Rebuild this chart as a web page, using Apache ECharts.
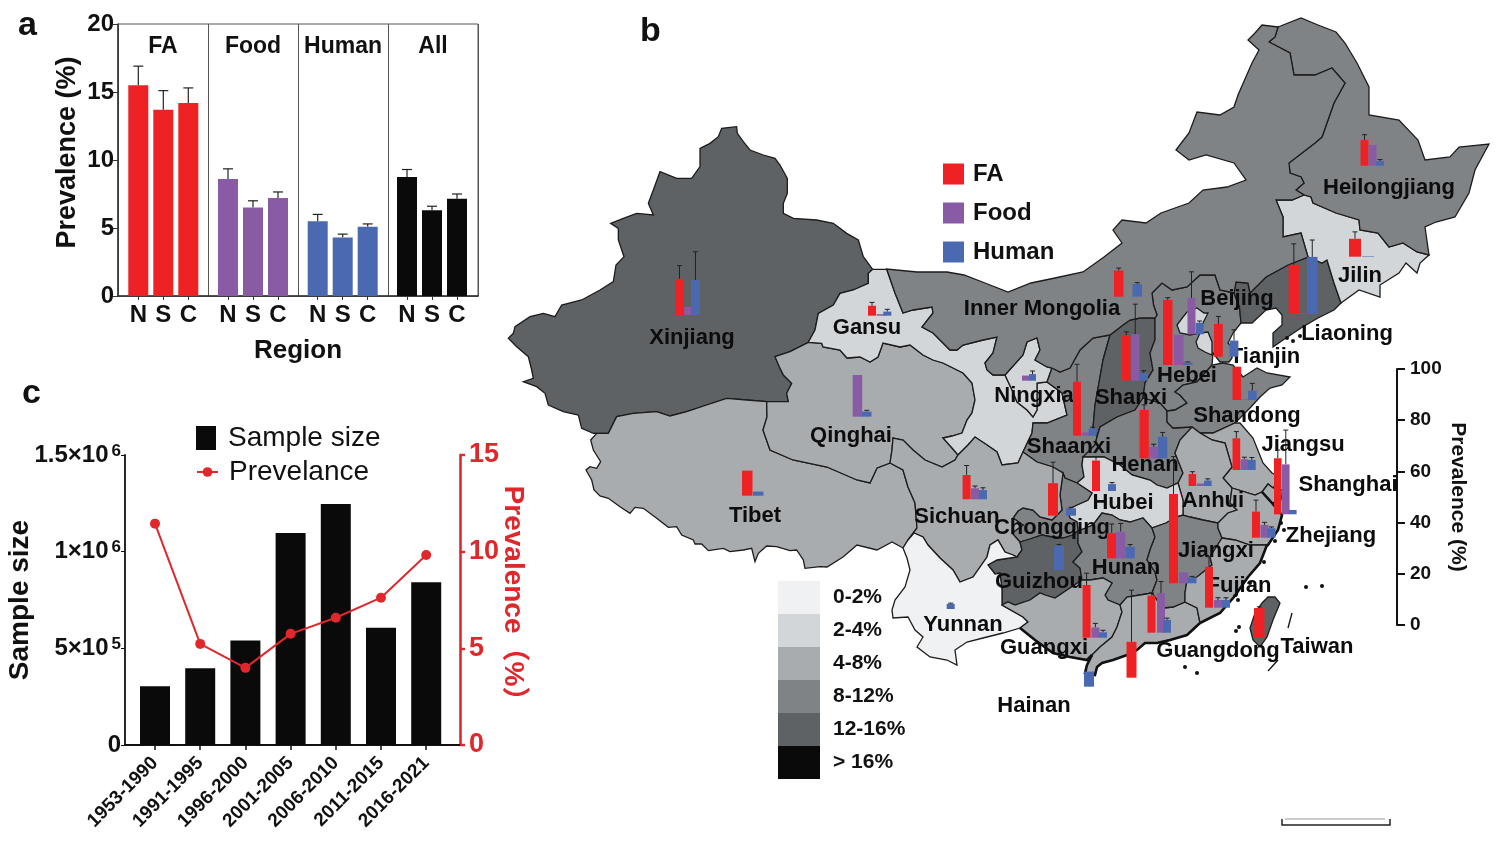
<!DOCTYPE html>
<html><head><meta charset="utf-8">
<style>html,body{margin:0;padding:0;background:#fff}#c{width:1503px;height:850px}</style>
<script src="https://cdn.jsdelivr.net/npm/echarts@6/dist/echarts.min.js"></script>
</head><body><div id="c"></div>
<script>
// ---------- panel a data ----------
const groupNames = ['FA','Food','Human','All'];
const regionCats = ['N','S','C'];
const faRegion = [15.5,13.7,14.2];       const faRegionErr = [1.4,1.4,1.1];
const foodRegion = [8.6,6.5,7.2];        const foodRegionErr = [0.75,0.5,0.45];
const humanRegion = [5.5,4.3,5.1];       const humanRegionErr = [0.5,0.25,0.2];
const allRegion = [8.75,6.3,7.15];       const allRegionErr = [0.55,0.3,0.35];
// ---------- panel c data ----------
const periods = ['1953-1990','1991-1995','1996-2000','2001-2005','2006-2010','2011-2015','2016-2021'];
const sampleSize = [304000,397000,541000,1097000,1246000,607000,842000];
const prevalenceByPeriod = [11.45,5.23,3.99,5.75,6.58,7.62,9.83];
const sampleTickLabels = {0:'0',500000:'5×10{s|5}',1000000:'1×10{s|6}',1500000:'1.5×10{s|6}'};
// ---------- panel b data ----------
const provinces = ['Xinjiang','Tibet','Qinghai','Gansu','Inner Mongolia','Heilongjiang','Jilin','Liaoning','Beijing','Tianjin','Hebei','Shanxi','Shandong','Ningxia','Shaanxi','Henan','Jiangsu','Shanghai','Anhui','Hubei','Sichuan','Chongqing','Guizhou','Hunan','Jiangxi','Zhejiang','Fujian','Guangxi','Yunnan','Guangdong','Hainan','Taiwan'];
const overall  = [14,6,6,3,10,10,3,13,3,3,10,13,10,3,10,10,6,6,6,3,6,10,13,10,10,6,6,6,1,6,6,13];
const faVals   = [14.1,9.8,0,3.9,10.2,10,7,19.2,0,12.8,25.4,17.8,13,0,21.1,18.9,12.4,21.9,4.7,11.9,9.5,12.7,0,9.8,34.9,10.2,16,20.6,0,14.5,14,11.7];
const foodVals = [3.2,0,16.3,0.6,0,8.1,0,0.2,14.2,0,11.7,18.2,0.3,2,1.3,4.5,4.2,19.5,1,0,4.3,0,0,10.4,4.3,5,3,4,0,15.4,0,0];
const humanVals= [13.7,1.6,2,1.6,5,1.8,0.2,22.3,4.5,6.3,0.9,3,3.6,2.6,2.9,8.4,3.9,1.7,2.1,2.7,3.6,2.9,9.5,4.5,2.3,3.7,3,2.1,2,5,5.9,0];
const faErr    = [5.2,0,0,1.3,1,2.1,2.7,8.2,0,2.9,0.9,1.3,0,0,6.8,2,2.6,3.2,0.9,1.6,3.7,8.2,0,3.6,14.6,4.5,3.9,4.6,0,1,20.2,0.5];
const foodErr  = [0,0,0,0,0,0,0,0,10.2,0,0,11.7,0,0,0,1,0.8,13.4,0,0,0.9,0,0,3.2,0,1,0.9,1.6,0,4.6,0,0];
const humanErr = [11,0,0.5,0.9,0.5,0.6,0,6.6,0.7,4.2,0.3,0.9,2.9,1.2,0.4,1.7,1,0,0.7,0.6,0.9,0.4,0.5,0.9,0.4,0.5,0.9,0.8,0.3,0.7,0,0];
const bandPieces = [
 {min:0,max:2,label:'0-2%',color:'#eff1f2'},{min:2,max:4,label:'2-4%',color:'#d3d6d9'},
 {min:4,max:8,label:'4-8%',color:'#a9acaf'},{min:8,max:12,label:'8-12%',color:'#808386'},
 {min:12,max:16,label:'12-16%',color:'#5f6264'},{min:16,label:'> 16%',color:'#0a0a0a'}];
const scaleTicks = [0,20,40,60,80,100];

// ---------- layout only: where each province's bars and name sit, in picture pixels ----------
const barPlace = {Xinjiang:[675,684.3,691,315,9],Tibet:[742,0,753,495.7,10.5],Qinghai:[0,852.7,862,416.7,9.5],Gansu:[868,876.7,883.3,315.7,8],'Inner Mongolia':[1114,0,1132.5,296.7,9.5],Heilongjiang:[1360.5,1368.6,1376,165.7,8],Jilin:[1349,0,1362,256.7,12],Liaoning:[1288.6,1299,1307,314,10.5],Beijing:[0,1187.5,1195.6,334.3,8],Tianjin:[1214,0,1229.6,356.7,8.8],Hebei:[1163,1174,1183,365,9.5],Shanxi:[1122,1131,1139.5,380.7,8.5],Shandong:[1232.5,1241,1248,400,8.7],Ningxia:[0,1022,1029,380.7,7],Shaanxi:[1073,1081.6,1088.6,435.7,8],Henan:[1139.5,1149,1158,458.3,9.3],Jiangsu:[1232.5,1240.5,1248,470,7.7],Shanghai:[1274,1282,1289,514.3,7.6],Anhui:[1188.6,1196.7,1204,486,7.6],Hubei:[1092,0,1108,491,8],Sichuan:[962.6,971,979,499.3,8],Chongqing:[1048,0,1066,515.7,10],Guizhou:[0,0,1054,570,10],Hunan:[1107,1116,1125.4,558.3,9.4],Jiangxi:[1169,1179,1187.5,583.3,9],Zhejiang:[1252,1260.5,1267.5,537.7,8],Fujian:[1205,1214,1222,607.7,8],Guangxi:[1082.6,1091.4,1099,637.7,8],Yunnan:[0,0,946.7,609,8],Guangdong:[1147.5,1157,1163,632.7,8],Hainan:[1126.5,0,1084,677.7,10],Taiwan:[1254,0,0,638,10.5]};
const humanBaseOverride = {Hainan:686.7};
const namePlace = {Xinjiang:[692,338],Tibet:[755,516],Qinghai:[851,436],Gansu:[867,328],'Inner Mongolia':[1042,309],Heilongjiang:[1389,188],Jilin:[1360,276],Liaoning:[1347,334],Beijing:[1237,299],Tianjin:[1265,357],Hebei:[1187,376],Shanxi:[1131,398],Shandong:[1247,416],Ningxia:[1034,396],Shaanxi:[1069,447],Henan:[1145,465],Jiangsu:[1303,445],Shanghai:[1348,485],Anhui:[1213,501],Hubei:[1123,503],Sichuan:[957,517],Chongqing:[1052,528],Guizhou:[1039,582],Hunan:[1126,568],Jiangxi:[1216,551],Zhejiang:[1331,536],Fujian:[1239,586],Guangxi:[1044,648],Yunnan:[963,625],Guangdong:[1218,651],Hainan:[1034,706],Taiwan:[1317,647]};
const islandPlace = [[1185,667],[1197,673],[1306,587],[1322,586],[1239,627],[1236,631],[1287,338],[1293,341],[1300,336],[1281,523],[1284,530],[1275,541],[1264,562],[1250,583],[1238,600]];
const dashPlace = [[[1292,613],[1288,628]],[[1268,671],[1278,660]]];

// ---------- province outlines, traced as shared borders in picture pixels ----------
const zoomed=(ox,oy,a)=>a.map((v,i)=>i%2?oy+v/3:ox+v/3);
const z3=a=>zoomed(500,100,a), z10=a=>zoomed(580,420,a);
const arcs={
xjOut:z3([1118,508,1090,470,1075,420,1040,400,1000,370,950,360,880,355,850,340,850,310,862,280,862,235,840,195,825,175,790,165,750,150,730,125,712,100,710,80,665,85,655,110,630,130,600,145,600,200,575,235,530,235,480,215,460,270,445,310,460,345,410,340,370,355,332,370,355,385,355,420,372,470,348,495,340,545,300,570,245,600,185,615,165,650,130,640,90,650,45,680,40,700,25,715,50,740,85,770,95,810,100,835,70,845,110,860,135,880,145,915,190,935,235,945,245,985,280,1000]),
xjTb:z3([280,1000,325,1000,350,950,400,940,470,935,510,948,560,935,620,915,680,895,740,900,800,905]),
xjQh:z3([800,905,865,905,860,880,875,850,850,825,838,800,825,770,870,755,925,727]),
xjGs:z3([925,727,945,690,955,640,1000,615,1020,580,1060,570,1105,550,1105,520,1118,508]),
gsTop:z3([1118,508,1160,508]),
gsQh:[808.3,342.3,821.7,343.3,823,347,840,350,847,358,860,357,870,362,878,357,883,343,900,347,910,345,923,355,933,360,943,363,963,373,972,383,975,400,972,413,967,420,962,433,952,436,943,438,952,448,958,455],
qhSc:[958,455,955,460,942,467,925,460,913,450,903,440,893,438,892,450,890,463],
qhTb:[890,463,877,468,870,483,857,480,827,467,793,460,770,450,763,430,767,417,766.7,401.7],
scTb:[890,463,903,470,908,487,915,503,917,528,908,540],
tbOut:z10([50,40,32,60,40,90,62,125,50,145,30,140,18,150,35,180,42,210,60,228,85,235,120,260,150,280,165,262,190,265,230,295,265,322,290,320,305,345,340,360,345,372,365,372,385,392,430,385,450,395,490,390,515,385,525,425,535,400,560,378,590,380,630,392,650,390,670,420,675,445,720,440]).concat([827,567,843,557,857,545,877,550,892,542,903,548,908,540]),
gsIm:[886.7,269,895,293,903,313,913,310,932,307,933,313,922,327,933,333,950,350,957,350,963,345,983,340,997,337,993,353,985,363,987,370,993,375,1005,375],
gsNx:[1005,375,1013,392,1017,402,1027,410,1033,417,1037,410,1037,383,1047,382],
gsSx:[1047,382,1062,393,1067,415,1047,423,1033,423,1032,433,1023,452],
scGs:[958,455,968,445,975,437,987,445,997,452,1002,465,1018,463,1023,452],
nxIm:[1005,375,1023,355,1027,342,1037,338,1040,350,1035,360,1047,367,1052,368],
nxSx:[1052,368,1047,382],
sxIm:[1052,368,1060,372,1070,368,1080,350,1093,338,1110,335],
ssShanxi:[1110,335,1103,360,1100,377,1095,405,1093,428,1097,437],
sxHn:[1097,437,1095,445,1083,457],
sxHb:[1083,457,1082,465,1084,477,1077,483],
sxCq:[1063,473,1065,478,1077,483],
scSx:[1023,452,1037,462,1053,467,1063,473],
shIm:[1110,335,1123,325,1130,320,1140,318,1155,318],
shHb:[1155,318,1155,340,1150,353,1153,370,1145,383,1143,398],
shHn:[1143,398,1135,410,1117,417,1100,427,1097,437],
hbIm:[1155,318,1157,315,1153.5,305,1152,293,1162,283,1172,290,1187,287,1200,275,1215,275,1220,290,1234,293],
hbLn:[1234,293,1239.5,307,1241,323],
hbCoast:[1241,323,1233,333,1228,343,1232,347,1232,358,1229,362,1220,362,1213,353,1212,365],
hbSd:[1212,365,1197,382,1183,385,1175,392,1180,395,1187,403,1175,410,1167,411],
hnHb:[1143,398,1160,403,1167,411],
lnIm:[1234,293,1236,282,1248,283,1250,293,1266,277,1288,265,1308,257],
lnJl:[1308,257,1322,263,1327,260,1334,283,1341,303],
lnCoast:[1341,303,1334,310,1318,318,1301,328,1283,340,1273,347,1273,333,1282,325,1282,315,1276,308,1266,310,1252,323,1241,323],
jlOut:[1341,303,1359,290,1380,297,1380,285,1399,273,1406,263,1417,273,1420,263,1429,255],
hjJl:[1429,255,1417,252,1403,243,1389,247,1378,233,1360,230,1359,220,1336,213,1313,203,1311,197,1304,195],
jlIm:[1304,195,1292,200,1276,200,1283,217,1283,237,1301,233,1308,257],
hjIm:[1304,195,1296,190,1304,183,1301,177,1290,173,1289,163,1315,143,1322,137,1334,103,1345,83,1332,68,1315,75,1294,75,1290,53,1269,42,1275,37,1278,27],
hjOut:[1278,27,1301,18,1318,25,1336,32,1345,43,1357,63,1369,87,1369,115,1399,120,1418,140,1425,160,1450,157,1459,147,1489,144,1482,157,1475,170,1469,193,1455,217,1436,222,1425,227,1429,255],
imOut:[1278,27,1262,25,1255,33,1248,40,1259,50,1252,63,1238,95,1234,107,1220,115,1197,112,1189,133,1176,150,1189,160,1206,155,1234,163,1246,180,1227,187,1203,190,1189,203,1161,213,1146,223,1122,220,1113,230,1122,243,1104,257,1083,272,1055,278,1031,283,1008,292,985,283,964,275,947,272,917,272,886.7,269],
hnSd:[1167,411,1167,422,1173,428,1192,427],
hnAh:[1192,427,1180,440,1175,453,1183,473,1178,483],
hbHn:[1083,457,1104,457,1120,465,1132,475,1150,480,1157,485,1167,488,1178,483],
sdCoast:[1212,365,1223,363,1233,365,1243,377,1257,368,1267,373,1290,377,1282,385,1270,388,1260,397,1250,408,1240,418,1235,423],
sdJs:[1235,423,1213,433,1200,433],
sdAh:[1192,427,1200,433],
jsCoast:[1235,423,1240,423,1253,438,1263,463,1272,473,1280,477,1273,488],
jsSh:[1273,488,1268,484,1262,492],
jsZj:[1232,488,1255,495,1262,492],
jsAh:[1200,433,1212,440,1225,443,1232,467,1223,478,1232,488],
ahZj:[1232,488,1230,503,1237,510,1228,513,1218,523],
ahJx:[1218,523,1203,520,1190,517,1183,515],
hbAh:[1178,483,1183,500,1183,515],
hbJx:[1183,515,1176,517,1166,523,1152,528],
hbHun:[1152,528,1143,518,1130,522,1120,520,1112,515,1102,513,1093,525,1078,531],
cqHb:[1077,483,1092,493,1088,500,1077,505,1067,510,1070,518,1077,522,1078,531],
cqGz:[1078,531,1073,535,1063,538,1052,537,1042,535,1030,539,1020,542],
scCq:[1020,542,1012,533,1023,525,1013,518,1018,511,1023,508,1033,510,1040,517,1052,520,1062,510,1060,495,1063,473],
scGz:[1020,542,1022,550,1017,557],
scYn:[908,540,914,533,923,537,928,545,940,558,953,570,960,582,973,577,987,557,990,545,998,540,1005,552,1013,555,1017,557],
gzYn:[1017,557,997,560,988,565,995,574,1000,573,1002,590,1002,605],
gzHun:[1078,531,1078,543,1082,552,1073,562,1080,568,1082,580],
gzGx:[1082,580,1067,590,1055,598,1045,595,1040,593,1030,600,1015,605,1008,602,1002,605],
gxYn:[1002,605,1023,617,1028,622,1020,628],
ynOut:[1020,628,1003,633,983,638,967,642,955,650,957,665,947,660,930,657,917,647,923,637,915,630,908,617,893,618,892,610,895,600,905,587,910,570,907,558,903,548,908,540],
hunJx:[1152,528,1155,537,1150,550,1147,560,1155,572,1157,580,1152,593],
hunGx:[1082,580,1090,580,1103,578,1112,583,1105,595,1108,600,1120,605],
gdHun:[1120,605,1127,597,1140,595,1152,593],
gxGd:[1120,605,1122,612,1117,627,1112,637,1100,647,1092,655],
gxCoast:[1020,628,1035,640,1053,653,1070,657,1087,660,1092,655],
gdCoast:[1092,655,1087,665,1085,673,1095,675,1097,667,1102,663,1113,660,1127,655,1137,650,1145,643,1157,643,1170,640,1187,635,1200,623],
gdJx:[1152,593,1163,608,1173,607,1185,602],
gdFj:[1185,602,1197,608,1200,623],
jxFj:[1222,538,1210,557,1212,565,1197,577,1187,580,1185,593,1185,602],
jxZj:[1218,523,1218,528,1222,538],
zjFj:[1222,538,1235,540,1250,545,1267,545],
zjCoast:[1262,492,1272,503,1282,515,1278,530,1268,545,1267,545],
fjCoast:[1267,545,1260,563,1248,577,1234,597,1220,613,1200,623],
shRest:[1262,492,1272,503,1281,500,1283,490,1273,488],
twOut:[1275,597,1268,597,1262,603,1255,613,1250,628,1253,640,1260,647,1267,637,1273,620,1280,603,1275,597],
bjOut:[1177,325,1183,317,1187,312,1197,308,1204,313,1208,313,1203,323,1200,333,1190,335,1180,333,1177,325],
tjOut:[1200,333,1208,332,1212,342,1212,355,1205,352,1198,348,1196,342,1200,333]
};
const outlines={
Xinjiang:['xjOut','xjTb','xjQh','xjGs'],
Tibet:['tbOut','-scTb','qhTb','-xjTb'],
Qinghai:['xjQh','gsQh','qhSc','qhTb'],
Gansu:['gsTop','gsIm','gsNx','gsSx','-scGs','-gsQh','xjGs'],
Ningxia:['nxIm','nxSx','-gsNx'],
Shaanxi:['sxIm','ssShanxi','sxHn','sxHb','-sxCq','-scSx','-gsSx','-nxSx'],
Shanxi:['shIm','shHb','shHn','-ssShanxi'],
Hebei:['hbIm','hbLn','hbCoast','hbSd','-hnHb','-shHb'],
Liaoning:['lnIm','lnJl','lnCoast','-hbLn'],
Jilin:['jlOut','hjJl','jlIm','lnJl'],
Heilongjiang:['hjOut','hjJl','hjIm'],
'Inner Mongolia':['imOut','gsIm','nxIm','sxIm','shIm','hbIm','lnIm','-jlIm','hjIm'],
Henan:['-shHn','hnHb','hnSd','hnAh','-hbHn','-sxHn'],
Shandong:['-hbSd','sdCoast','sdJs','-sdAh','-hnSd'],
Jiangsu:['-sdJs','jsCoast','jsSh','-jsZj','-jsAh'],
Anhui:['sdAh','jsAh','ahZj','ahJx','-hbAh','-hnAh'],
Hubei:['hbHn','hbAh','hbJx','hbHun','-cqHb','-sxHb'],
Chongqing:['sxCq','cqHb','cqGz','scCq'],
Sichuan:['-qhSc','scGs','scSx','-scCq','scGz','-scYn','-scTb'],
Guizhou:['-cqGz','gzHun','gzGx','-gzYn','-scGz'],
Yunnan:['scYn','gzYn','gxYn','ynOut'],
Hunan:['-hbHun','hunJx','-gdHun','-hunGx','-gzHun'],
Guangxi:['-gzGx','hunGx','gxGd','-gxCoast','-gxYn'],
Guangdong:['-gxGd','gdHun','gdJx','gdFj','-gdCoast'],
Jiangxi:['-ahJx','jxZj','jxFj','-gdJx','-hunJx','-hbJx'],
Zhejiang:['jsZj','zjCoast','-zjFj','-jxZj','-ahZj'],
Fujian:['zjFj','fjCoast','-gdFj','-jxFj'],
Shanghai:['shRest','jsSh'],
Taiwan:['twOut'],Beijing:['bjOut'],Tianjin:['tjOut']
};
const arcPoints=(a)=>{const pts=[];for(let i=0;i<a.length;i+=2)pts.push([a[i],-a[i+1]]);return pts;};
function ring(list){const out=[];list.forEach(n=>{const rev=n[0]==='-';const pts=arcPoints(arcs[rev?n.slice(1):n]);if(rev)pts.reverse();pts.forEach(p=>out.push(p));});out.push(out[0].slice());return out;}
const geoJson={type:'FeatureCollection',features:Object.keys(outlines).map(n=>({type:'Feature',properties:{name:n},geometry:{type:'Polygon',coordinates:[ring(outlines[n])]}}))};
echarts.registerMap('china',geoJson);

const F='"Liberation Sans",Arial,"Noto Sans CJK SC",sans-serif';
const RED='#ee2224',PUR='#8a5ba5',BLU='#4b69b1',BLK='#0a0a0a';
const PX_PER_PCT=256/100;
const chart=echarts.init(document.getElementById('c'),null,{renderer:'canvas'});

const subLefts=[125.8,215.5,305.2,394.5];
const grids=[{left:118,top:24,width:360,height:272,show:true,borderColor:'#555',borderWidth:1,backgroundColor:'transparent'}];
subLefts.forEach(l=>grids.push({left:l,top:24,width:75,height:272}));
grids.push({left:125,top:455,width:335,height:290});       // 5 frame c
grids.push({left:132.4,top:455,width:316.4,height:290});   // 6 bars c
grids.push({left:1396,top:369,width:1,height:256});        // 7 map scale

const xAxes=[
 {gridIndex:0,type:'category',position:'top',data:groupNames,axisLine:{show:true,lineStyle:{color:'#555'}},axisTick:{show:false},
  splitLine:{show:true,interval:0,lineStyle:{color:'#555',width:1}},axisLabel:{inside:true,interval:0,margin:11,color:'#111',fontFamily:F,fontWeight:'bold',fontSize:23}},
 {gridIndex:0,type:'category',position:'bottom',data:[''],axisLine:{show:true,lineStyle:{color:'#333',width:1.5}},axisTick:{show:false},axisLabel:{show:false},
  name:'Region',nameLocation:'middle',nameGap:42,nameTextStyle:{color:'#111',fontFamily:F,fontWeight:'bold',fontSize:26}}
];
subLefts.forEach((l,i)=>xAxes.push({gridIndex:i+1,type:'category',data:regionCats,axisLine:{show:false},axisTick:{show:true,length:4,alignWithLabel:true,lineStyle:{color:'#333'}},
  axisLabel:{margin:7,color:'#111',fontFamily:F,fontWeight:'bold',fontSize:24}}));
xAxes.push({gridIndex:5,type:'value',min:0,max:1,axisLine:{show:true,onZero:false,lineStyle:{color:'#111',width:1.8}},axisTick:{show:false},axisLabel:{show:false},splitLine:{show:false}});
xAxes.push({gridIndex:6,type:'category',data:periods,axisLine:{show:false},axisTick:{show:true,length:5,alignWithLabel:true,lineStyle:{color:'#111',width:1.5}},
  axisLabel:{rotate:45,margin:15,interval:0,color:'#111',fontFamily:F,fontWeight:'bold',fontSize:19}});
xAxes.push({gridIndex:7,type:'category',data:[''],show:false});

const hiddenY=(g,max)=>({gridIndex:g,type:'value',min:0,max:max,show:false,splitLine:{show:false}});
const yAxes=[
 {gridIndex:0,type:'value',min:0,max:20,interval:5,axisLine:{show:true,lineStyle:{color:'#333',width:1.5}},axisTick:{show:true,length:5,lineStyle:{color:'#333'}},splitLine:{show:false},
  axisLabel:{margin:4,color:'#111',fontFamily:F,fontWeight:'bold',fontSize:24},name:'Prevalence (%)',nameLocation:'middle',nameGap:37,nameRotate:90,
  nameTextStyle:{color:'#111',fontFamily:F,fontWeight:'bold',fontSize:27,padding:[0,0,0,15]}},
 hiddenY(1,20),hiddenY(2,20),hiddenY(3,20),hiddenY(4,20),
 {gridIndex:5,type:'value',min:0,max:1500000,interval:500000,axisLine:{show:true,lineStyle:{color:'#111',width:1.8}},axisTick:{show:true,length:4,lineStyle:{color:'#111'}},splitLine:{show:false},
  axisLabel:{margin:4,color:'#111',fontFamily:F,fontWeight:'bold',fontSize:24,formatter:v=>sampleTickLabels[v],rich:{s:{fontFamily:F,fontWeight:'bold',fontSize:17,verticalAlign:'top',padding:[0,0,8,3],color:'#111'}}},
  name:'Sample size',nameLocation:'middle',nameGap:91,nameRotate:90,nameMoveOverlap:false,nameTextStyle:{color:'#111',fontFamily:F,fontWeight:'bold',fontSize:28}},
 {gridIndex:5,type:'value',position:'right',min:0,max:15,interval:5,axisLine:{show:true,lineStyle:{color:'#e0282c',width:2.6}},axisTick:{show:true,length:5,lineStyle:{color:'#e0282c',width:2.4}},splitLine:{show:false},
  axisLabel:{margin:9,color:'#e0282c',fontFamily:F,fontWeight:'bold',fontSize:27},
  name:'Prevalence（%）',nameLocation:'middle',nameGap:39,nameRotate:-90,nameMoveOverlap:false,nameTextStyle:{color:'#e0282c',fontFamily:F,fontWeight:'bold',fontSize:28,padding:[0,0,0,0]}},
 hiddenY(6,1500000),hiddenY(6,15),
 {gridIndex:7,type:'value',position:'right',min:0,max:100,interval:20,axisLine:{show:true,lineStyle:{color:'#111',width:2}},axisTick:{show:true,length:8,lineStyle:{color:'#111',width:2}},splitLine:{show:false},
  axisLabel:{margin:13,color:'#111',fontFamily:F,fontWeight:'bold',fontSize:19,formatter:v=>scaleTicks.includes(v)?String(v):''},
  name:'Prevalence (%)',nameLocation:'middle',nameGap:50,nameRotate:-90,nameTextStyle:{color:'#111',fontFamily:F,fontWeight:'bold',fontSize:21}}
];

const regionSets=[[faRegion,faRegionErr,RED],[foodRegion,foodRegionErr,PUR],[humanRegion,humanRegionErr,BLU],[allRegion,allRegionErr,BLK]];
const series=[];
regionSets.forEach((s,i)=>{
 series.push({name:groupNames[i]+' by region',type:'bar',xAxisIndex:2+i,yAxisIndex:1+i,data:s[0],barWidth:20,itemStyle:{color:s[2]},silent:true});
 series.push({name:groupNames[i]+' error',type:'custom',xAxisIndex:2+i,yAxisIndex:1+i,silent:true,z:1,
  data:s[0].map((v,j)=>[j,v,v+s[1][j]]),encode:{x:0,y:[1,2]},
  renderItem:(p,api)=>{const a=api.coord([api.value(0),api.value(1)]),b=api.coord([api.value(0),api.value(2)]);
   const st={stroke:'#222',lineWidth:1.2};
   return {type:'group',children:[{type:'line',shape:{x1:a[0],y1:a[1],x2:b[0],y2:b[1]},style:st},{type:'line',shape:{x1:a[0]-5,y1:b[1],x2:a[0]+5,y2:b[1]},style:st}]};}});
});
series.push({name:'Sample size',type:'bar',xAxisIndex:7,yAxisIndex:7,data:sampleSize,barWidth:30,itemStyle:{color:BLK},silent:true});
series.push({name:'Prevelance',type:'line',xAxisIndex:7,yAxisIndex:8,data:prevalenceByPeriod,symbol:'circle',symbolSize:10,z:5,lineStyle:{color:'#e0282c',width:2},itemStyle:{color:'#e0282c'},silent:true});
series.push({name:'scale',type:'bar',xAxisIndex:xAxes.length-1,yAxisIndex:9,data:[],silent:true});

series.push({name:'Province',type:'map',map:'china',geoIndex:0,data:provinces.map((n,i)=>({name:n,value:overall[i]})),silent:true});
const mapSeriesIndex=series.length-1;
series.push({name:'coast',type:'lines',coordinateSystem:'geo',geoIndex:0,polyline:true,silent:true,z:3,
 lineStyle:{color:'#111',width:2.6,opacity:1},
 data:['gxCoast','gdCoast','fjCoast','zjCoast'].map(n=>({coords:arcPoints(arcs[n])})).concat(dashPlace.map(d=>({coords:d.map(p=>[p[0],-p[1]]),lineStyle:{width:1.3}})))});
series.push({name:'islands',type:'scatter',coordinateSystem:'geo',geoIndex:0,silent:true,z:3,symbolSize:4,itemStyle:{color:'#111',opacity:1},data:islandPlace.map(p=>[p[0],-p[1]])});
series.push({name:'names',type:'custom',coordinateSystem:'geo',geoIndex:0,silent:true,z:4,
 data:provinces.map(n=>[namePlace[n][0],-namePlace[n][1],n]),
 dimensions:['x','y',{name:'label',type:'ordinal'}],
 renderItem:(p,api)=>{const c=api.coord([api.value(0),api.value(1)]);
  return {type:'text',x:c[0],y:c[1],style:{text:provinces[p.dataIndex],fill:'#0c0c0c',font:'bold 22px '+F,textAlign:'center',textVerticalAlign:'middle'}};}});
function barSeries(name,color,vals,errs,slot){
 const data=[];
 provinces.forEach((n,i)=>{const pl=barPlace[n];if(!vals[i]||!pl[slot])return;
  const base=(slot===2&&humanBaseOverride[n])||pl[3];
  data.push([pl[slot],-base,vals[i],errs[i],pl[4]]);});
 return {name,type:'custom',coordinateSystem:'geo',geoIndex:0,silent:true,z:6,itemStyle:{color},data,
  renderItem:(p,api)=>{const x=api.value(0),y=api.value(1),v=api.value(2)*PX_PER_PCT,e=api.value(3)*PX_PER_PCT,w=api.value(4);
   const a=api.coord([x,y]),b=api.coord([x+w,y+v]),t=api.coord([x+w/2,y+v+e]);
   const kids=[{type:'rect',shape:{x:a[0],y:b[1],width:b[0]-a[0],height:a[1]-b[1]},style:{fill:color}}];
   if(e>0){const st={stroke:'#222',lineWidth:1};
    kids.unshift({type:'line',shape:{x1:t[0],y1:b[1],x2:t[0],y2:t[1]},style:st},{type:'line',shape:{x1:t[0]-2.5,y1:t[1],x2:t[0]+2.5,y2:t[1]},style:st});}
   return {type:'group',children:kids};}};
}
series.push(barSeries('FA',RED,faVals,faErr,0),barSeries('Food',PUR,foodVals,foodErr,1),barSeries('Human',BLU,humanVals,humanErr,2));

const letter=(t,l,tp)=>({text:t,left:l,top:tp,padding:0,textStyle:{fontFamily:F,fontWeight:'bold',fontSize:34,color:'#111'}});
chart.setOption({
 animation:false,
 textStyle:{fontFamily:F},
 title:[letter('a',18,9),letter('b',640,15),letter('c',22,377)],
 grid:grids,xAxis:xAxes,yAxis:yAxes,
 geo:{map:'china',left:0,top:0,width:1503,height:850,aspectScale:1,boundingCoords:[[0,0],[1503,-850]],roam:false,silent:true,
  label:{show:false},itemStyle:{areaColor:'#d3d6d9',borderColor:'#1c1c1c',borderWidth:1.3},emphasis:{disabled:true}},
 visualMap:{type:'piecewise',seriesIndex:mapSeriesIndex,left:778,top:581,padding:0,align:'left',orient:'vertical',inverse:true,itemSymbol:'rect',itemWidth:42,itemHeight:33,itemGap:0,textGap:13,
  selectedMode:false,hoverLink:false,pieces:bandPieces,textStyle:{color:'#111',fontFamily:F,fontWeight:'bold',fontSize:21}},
 legend:[
  {data:[{name:'FA',icon:'rect'},{name:'Food',icon:'rect'},{name:'Human',icon:'rect'}],orient:'vertical',left:943,top:162,padding:0,itemWidth:21,itemHeight:21,itemGap:15,selectedMode:false,
   textStyle:{color:'#111',fontFamily:F,fontWeight:'bold',fontSize:24,padding:[0,0,0,4]}},
  {data:[{name:'Sample size',icon:'rect'}],left:196,top:424,padding:0,itemWidth:20,itemHeight:24,selectedMode:false,
   textStyle:{color:'#111',fontFamily:F,fontSize:28,padding:[0,0,0,7]}},
  {data:[{name:'Prevelance'}],left:196,top:458,padding:0,itemWidth:21,itemHeight:12,selectedMode:false,
   textStyle:{color:'#111',fontFamily:F,fontSize:28,padding:[0,0,0,6]}}],
 graphic:[
  {type:'polyline',shape:{points:[[1282,819],[1282,825],[1390,825],[1390,819]]},style:{stroke:'#222',lineWidth:1.5,fill:null},silent:true},
  {type:'line',shape:{x1:1285,y1:819,x2:1385,y2:819},style:{stroke:'#bbb',lineWidth:1.5},silent:true}
 ],
 series
});
</script></body></html>
